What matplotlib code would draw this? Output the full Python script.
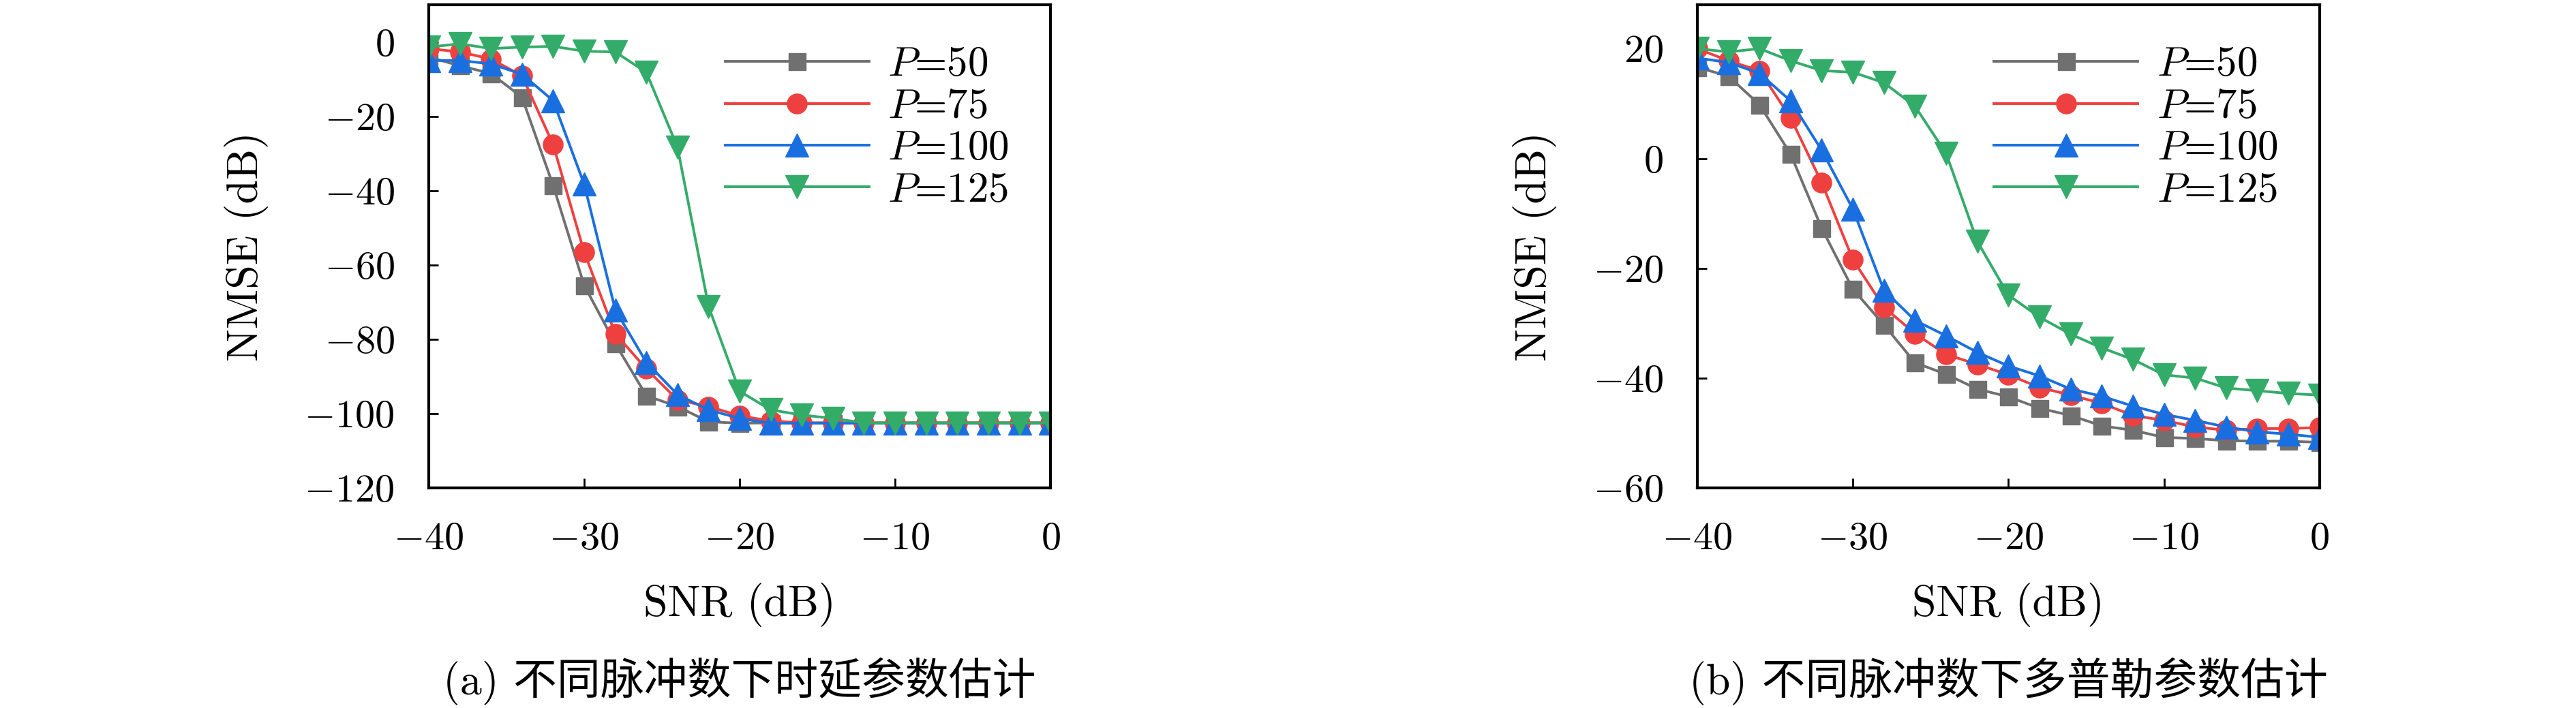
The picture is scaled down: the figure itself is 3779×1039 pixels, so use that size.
import numpy as np
import matplotlib
matplotlib.use('Agg')
import matplotlib.pyplot as plt
from matplotlib.ticker import FuncFormatter

plt.rcParams['font.family'] = ['cmr10', 'Noto Sans CJK SC']
plt.rcParams['mathtext.fontset'] = 'cm'
plt.rcParams['axes.unicode_minus'] = False

# 数据
snr = list(range(-40, 1, 2))
labels = [r'$P$=50', r'$P$=75', r'$P$=100', r'$P$=125']

delay_p50 = [-4.1, -6.4, -8.5, -14.9, -38.6, -65.5, -81.2, -95.2, -98.1, -102.2, -102.6,
             -102.5, -102.5, -102.5, -102.5, -102.5, -102.5, -102.5, -102.5, -102.5, -102.5]
delay_p75 = [-1.8, -2.7, -4.6, -9.1, -27.6, -56.6, -78.5, -88.0, -96.3, -98.1, -100.6,
             -102.0, -102.5, -102.5, -102.5, -102.5, -102.5, -102.5, -102.5, -102.5, -102.5]
delay_p100 = [-5.0, -5.0, -5.9, -8.7, -15.8, -38.3, -72.1, -86.2, -94.9, -99.0, -101.3,
              -102.6, -102.6, -102.6, -102.6, -102.6, -102.6, -102.6, -102.6, -102.6, -102.6]
delay_p125 = [-1.4, -0.5, -1.8, -1.4, -1.2, -2.5, -2.7, -8.2, -28.3, -71.2, -94.0,
              -99.0, -100.4, -101.3, -102.5, -102.5, -102.5, -102.5, -102.5, -102.5, -102.5]

doppler_p50 = [16.6, 15.0, 9.8, 0.8, -12.7, -23.8, -30.3, -37.2, -39.3, -42.0, -43.4,
               -45.5, -46.8, -48.7, -49.5, -50.8, -51.0, -51.4, -51.5, -51.5, -51.7]
doppler_p75 = [20.0, 17.8, 16.0, 7.4, -4.4, -18.4, -27.1, -31.9, -35.7, -37.5, -39.4,
               -41.7, -43.1, -44.6, -46.8, -47.7, -48.9, -49.5, -49.2, -49.2, -49.0]
doppler_p100 = [18.3, 17.5, 15.5, 10.5, 1.5, -9.2, -24.0, -29.5, -32.3, -35.3, -37.8,
                -39.6, -42.0, -43.3, -45.1, -46.6, -47.7, -48.9, -49.8, -50.2, -50.8]
doppler_p125 = [20.0, 19.4, 20.0, 17.8, 16.0, 15.7, 13.8, 9.5, 0.9, -15.1, -24.9,
                -28.9, -32.0, -34.5, -36.6, -39.4, -40.0, -41.8, -42.3, -42.8, -43.1]

colors = ['#707070', '#ef4040', '#1a6fe0', '#34ac69']
markers = ['s', 'o', '^', 'v']
msizes = [18, 21, 24, 24]

fig = plt.figure(figsize=(37.8, 10.39), dpi=100)
ax_a = fig.add_axes([0.1664, 0.3109, 0.2413, 0.6824])
ax_b = fig.add_axes([0.6587, 0.3109, 0.2415, 0.6824])

panels = [
    (ax_a, [delay_p50, delay_p75, delay_p100, delay_p125], (-120, 10), [0, -20, -40, -60, -80, -100, -120],
     '(a) 不同脉冲数下时延参数估计'),
    (ax_b, [doppler_p50, doppler_p75, doppler_p100, doppler_p125], (-60, 28), [20, 0, -20, -40, -60],
     '(b) 不同脉冲数下多普勒参数估计'),
]

fmt = FuncFormatter(lambda v, pos: r'$%g$' % v)

for ax, series, ylim, yticks, caption in panels:
    for ys, c, m, ms, lab in zip(series, colors, markers, msizes, labels):
        ax.plot(snr, ys, color=c, marker=m, markersize=ms, linewidth=2.8, label=lab)
    ax.set_xlim(-40, 0)
    ax.set_ylim(*ylim)
    ax.set_xticks([-40, -30, -20, -10, 0])
    ax.set_yticks(yticks)
    ax.xaxis.set_major_formatter(fmt)
    ax.yaxis.set_major_formatter(fmt)
    ax.tick_params(direction='in', length=10, width=2, labelsize=42, pad=36)
    for sp in ax.spines.values():
        sp.set_linewidth(3)
    ax.set_xlabel('SNR (dB)', fontsize=46, labelpad=27)
    ax.set_ylabel('NMSE (dB)', fontsize=46, labelpad=38)
    ax.legend(loc='upper right', frameon=False, fontsize=44, handlelength=3.45,
              labelspacing=0.1, handletextpad=0.45, borderaxespad=0.6)
    pos = ax.get_position()
    fig.text(pos.x0 + pos.width / 2, 1 - 1000 / 1039, caption, fontsize=46,
             ha='center', va='center')

fig.savefig('out.png', dpi=100)
